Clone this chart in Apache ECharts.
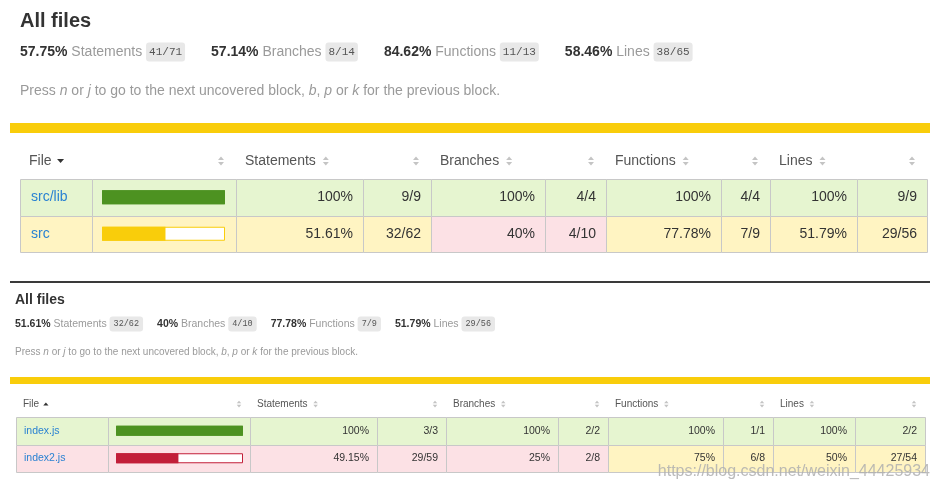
<!DOCTYPE html>
<html><head><meta charset="utf-8">
<script src="https://cdn.jsdelivr.net/npm/echarts@6/dist/echarts.min.js"></script>
<style>html,body{margin:0;padding:0;background:#fff}#c{width:939px;height:493px}</style>
</head><body><div id="c"></div>
<script>
// ---------- data ----------
const metricLabels = ['Statements', 'Branches', 'Functions', 'Lines'];
const topSummaryPct = [57.75, 57.14, 84.62, 58.46];
const topSummaryFrac = ['41/71', '8/14', '11/13', '38/65'];
const bottomSummaryPct = [51.61, 40, 77.78, 51.79];
const bottomSummaryFrac = ['32/62', '4/10', '7/9', '29/56'];

const topFiles = ['src/lib', 'src'];
const topStmtPct = [100, 51.61];
const topStmtFrac = ['9/9', '32/62'];
const topBranchPct = [100, 40];
const topBranchFrac = ['4/4', '4/10'];
const topFuncPct = [100, 77.78];
const topFuncFrac = ['4/4', '7/9'];
const topLinePct = [100, 51.79];
const topLineFrac = ['9/9', '29/56'];

const bottomFiles = ['index.js', 'index2.js'];
const bottomStmtPct = [100, 49.15];
const bottomStmtFrac = ['3/3', '29/59'];
const bottomBranchPct = [100, 25];
const bottomBranchFrac = ['2/2', '2/8'];
const bottomFuncPct = [100, 75];
const bottomFuncFrac = ['1/1', '6/8'];
const bottomLinePct = [100, 50];
const bottomLineFrac = ['2/2', '27/54'];

const titleText = 'All files';
const helpRuns = [['Press ', 0], ['n', 1], [' or ', 0], ['j', 1], [' to go to the next uncovered block, ', 0], ['b', 1], [', ', 0], ['p', 1], [' or ', 0], ['k', 1], [' for the previous block.', 0]];
const watermark = 'https://blog.csdn.net/weixin_44425934';

// ---------- style / layout ----------
const FONT = '"Liberation Sans", Arial, Helvetica, sans-serif';
const MONO = '"Liberation Mono", "DejaVu Sans Mono", monospace';
const INK = '#333';
const QUIET = '#9a9a9a';
const HEAD = '#555';
const LINK = '#2a82d2';
const BORDER = '#c8c8c8';
const STATUS = '#f9cd0b';
function cellBg(p) { return p >= 80 ? '#e6f5d0' : (p >= 50 ? '#fff4c2' : '#fce1e5'); }
function fillColor(p) { return p >= 80 ? '#4d9221' : (p >= 50 ? '#f9cd0b' : '#c21f39'); }
function pctText(p) { return String(p) + '%'; }

const cv = document.createElement('canvas').getContext('2d');
function tw(text, size, weight) { cv.font = (weight || 'normal') + ' ' + size + 'px ' + FONT; return cv.measureText(text).width; }

const TOP = {
  titleX: 20, titleY: 21, titleSize: 20,
  sumY: 52, sumSize: 14, badgeSize: 11, badgePad: [4, 3], groupGap: 26,
  helpY: 91, helpSize: 14,
  statusY: 123, statusH: 10,
  headY: 161, headSize: 14, headPad: 9,
  edges: [20, 92, 236, 363, 431, 545, 606, 721, 770, 857, 927],
  rows: [179, 216, 252],
  cellSize: 14, padL: 11, padR: 10,
  barLeft: 102, barWidth: 123, barH: 14,
  iconS: 1, iconInset: 15, iconGap: 10, arrowUp: false
};
const BOT = {
  titleX: 15, titleY: 300, titleSize: 14,
  sumY: 324, sumSize: 10.5, badgeSize: 8.5, badgePad: [3, 4], groupGap: 14,
  helpY: 352, helpSize: 10,
  statusY: 377, statusH: 7,
  headY: 404, headSize: 10, headPad: 7,
  edges: [16, 108, 250, 377, 446, 558, 608, 723, 773, 855, 925],
  rows: [417, 445, 472],
  cellSize: 10.5, padL: 8, padR: 8,
  barLeft: 116, barWidth: 127, barH: 10,
  iconS: 0.75, iconInset: 11, iconGap: 8, arrowUp: true
};

const G = [];
function txt(x, y, text, o) {
  G.push({ type: 'text', x: x, y: y, z: 10, silent: true,
    style: Object.assign({ text: text, fontFamily: FONT, fontSize: 14, fill: INK, align: 'left', verticalAlign: 'middle' }, o || {}) });
}
function rect(x, y, w, h, fill, stroke, z) {
  G.push({ type: 'rect', z: z || 0, silent: true, shape: { x: x, y: y, width: w, height: h },
    style: { fill: fill, stroke: stroke || null, lineWidth: stroke ? 1 : 0 } });
}
function tri(pts, color) {
  G.push({ type: 'polygon', z: 10, silent: true, shape: { points: pts }, style: { fill: color } });
}
function sortIcon(cx, cy, s) {
  tri([[cx - 3 * s, cy - 1 * s], [cx + 3 * s, cy - 1 * s], [cx, cy - 4.5 * s]], '#c4c4c4');
  tri([[cx - 3 * s, cy + 1 * s], [cx + 3 * s, cy + 1 * s], [cx, cy + 4.5 * s]], '#c4c4c4');
}

function buildSection(L, sumPct, sumFrac, files, metrics) {
  // title
  txt(L.titleX, L.titleY, titleText, { fontSize: L.titleSize, fontWeight: 'bold', fill: INK });
  // summary
  const rich = {
    b: { fontFamily: FONT, fontSize: L.sumSize, fontWeight: 'bold', fill: INK, verticalAlign: 'middle', lineHeight: L.sumSize + 6 },
    q: { fontFamily: FONT, fontSize: L.sumSize, fill: QUIET, verticalAlign: 'middle', lineHeight: L.sumSize + 6 },
    f: { fontFamily: MONO, fontSize: L.badgeSize, fill: '#555', backgroundColor: '#e8e8e8', borderRadius: 3,
         padding: L.badgePad, verticalAlign: 'middle', lineHeight: L.badgeSize + 2 },
    s: { width: L.groupGap, fontSize: L.sumSize, fontFamily: FONT, verticalAlign: 'middle' }
  };
  const parts = metricLabels.map(function (lab, i) {
    return '{b|' + pctText(sumPct[i]) + ' }{q|' + lab + ' }{f|' + sumFrac[i] + '}';
  });
  txt(L.titleX, L.sumY, parts.join('{s| }'), { rich: rich });
  // help line
  const hr = {
    r: { fontFamily: FONT, fontSize: L.helpSize, fill: QUIET },
    i: { fontFamily: FONT, fontSize: L.helpSize, fontStyle: 'italic', fill: QUIET }
  };
  txt(L.titleX, L.helpY, helpRuns.map(function (h) { return '{' + (h[1] ? 'i' : 'r') + '|' + h[0] + '}'; }).join(''), { rich: hr });
  // status line
  rect(10, L.statusY, 920, L.statusH, STATUS, null, 0);

  const e = L.edges;
  // header
  const hy = L.headY;
  txt(e[0] + L.headPad, hy, 'File', { fontSize: L.headSize, fill: HEAD });
  const ax = e[0] + L.headPad + tw('File', L.headSize) + 9 * L.iconS;
  const s = L.iconS;
  if (L.arrowUp) tri([[ax - 3.5 * s, hy + 2 * s], [ax + 3.5 * s, hy + 2 * s], [ax, hy - 2 * s]], '#333');
  else tri([[ax - 3.5 * s, hy - 2 * s], [ax + 3.5 * s, hy - 2 * s], [ax, hy + 2 * s]], '#333');
  for (let c = 1; c < 10; c++) {
    if (c % 2 === 0) {
      const lab = metricLabels[c / 2 - 1];
      txt(e[c] + L.headPad, hy, lab, { fontSize: L.headSize, fill: HEAD });
      sortIcon(e[c] + L.headPad + tw(lab, L.headSize) + L.iconGap, hy, s);
    } else {
      sortIcon(e[c + 1] - L.iconInset, hy, s);
    }
  }
  // rows
  files.forEach(function (name, r) {
    const y0 = L.rows[r], y1 = L.rows[r + 1], cy = (y0 + y1) / 2;
    const colPct = [metrics[0][r], metrics[0][r]];
    metrics.forEach(function (m) { colPct.push(m[r], m[r]); });
    for (let c = 0; c < 10; c++) {
      rect(e[c] + 0.5, y0 + 0.5, e[c + 1] - e[c], y1 - y0, cellBg(colPct[c]), BORDER, 1);
    }
    txt(e[0] + L.padL, cy, name, { fontSize: L.cellSize, fill: LINK });
    metrics.forEach(function (m, k) {
      txt(e[2 + 2 * k + 1] - L.padR, cy, pctText(m[r]), { fontSize: L.cellSize, fill: INK, align: 'right' });
      txt(e[2 + 2 * k + 2] - L.padR, cy, L.fracs[k][r], { fontSize: L.cellSize, fill: INK, align: 'right' });
    });
  });
}

TOP.fracs = [topStmtFrac, topBranchFrac, topFuncFrac, topLineFrac];
BOT.fracs = [bottomStmtFrac, bottomBranchFrac, bottomFuncFrac, bottomLineFrac];
buildSection(TOP, topSummaryPct, topSummaryFrac, topFiles, [topStmtPct, topBranchPct, topFuncPct, topLinePct]);
// separator between the two screenshots
G.push({ type: 'line', z: 5, silent: true, shape: { x1: 10, y1: 282, x2: 930, y2: 282 }, style: { stroke: '#3a3a3a', lineWidth: 2 } });
buildSection(BOT, bottomSummaryPct, bottomSummaryFrac, bottomFiles, [bottomStmtPct, bottomBranchPct, bottomFuncPct, bottomLinePct]);
// watermark
txt(930, 472, watermark, { fontSize: 16, fill: 'rgba(175,175,175,0.85)', align: 'right', z: 20 });

function barSeries(idx, files, pcts, h) {
  return [
    { type: 'bar', xAxisIndex: idx, yAxisIndex: idx, barWidth: h, barGap: '-100%', silent: true, z: 2,
      data: files.map(function (f, i) { return { value: 100, itemStyle: { color: '#fff', borderColor: fillColor(pcts[i]), borderWidth: 1 } }; }) },
    { type: 'bar', xAxisIndex: idx, yAxisIndex: idx, barWidth: h, barGap: '-100%', silent: true, z: 3,
      data: pcts.map(function (p) { return { value: p, itemStyle: { color: fillColor(p) } }; }) }
  ];
}

const chart = echarts.init(document.getElementById('c'), null, { renderer: 'canvas' });
chart.setOption({
  animation: false,
  backgroundColor: '#fff',
  grid: [
    { left: TOP.barLeft, width: TOP.barWidth, top: TOP.rows[0], height: TOP.rows[2] - TOP.rows[0] },
    { left: BOT.barLeft, width: BOT.barWidth, top: BOT.rows[0], height: BOT.rows[2] - BOT.rows[0] }
  ],
  xAxis: [
    { type: 'value', gridIndex: 0, min: 0, max: 100, show: false },
    { type: 'value', gridIndex: 1, min: 0, max: 100, show: false }
  ],
  yAxis: [
    { type: 'category', gridIndex: 0, data: topFiles, inverse: true, show: false },
    { type: 'category', gridIndex: 1, data: bottomFiles, inverse: true, show: false }
  ],
  series: barSeries(0, topFiles, topStmtPct, TOP.barH).concat(barSeries(1, bottomFiles, bottomStmtPct, BOT.barH)),
  graphic: { elements: G }
});
</script></body></html>
